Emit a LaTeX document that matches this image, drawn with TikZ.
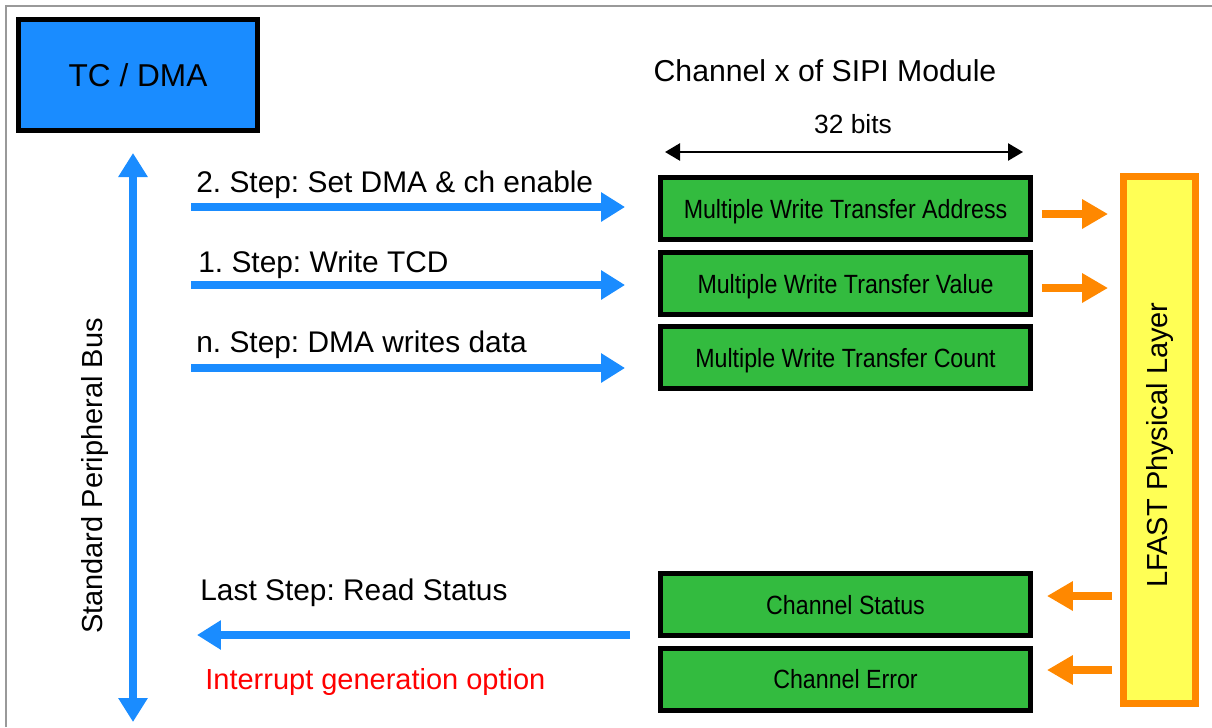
\documentclass[tikz,border=0pt]{standalone}
\usepackage{fontspec}
\setmainfont{Liberation Sans}
\newfontfamily\regfont[FakeStretch=0.88]{Liberation Sans}
\usetikzlibrary{arrows.meta,positioning,calc}
\usepackage{xcolor}
\definecolor{busblue}{RGB}{26,140,255}
\definecolor{reggreen}{RGB}{51,187,63}
\definecolor{phyorange}{RGB}{255,136,0}
\definecolor{phyyellow}{RGB}{255,255,85}
\frenchspacing

\begin{document}
\begin{tikzpicture}[x=0.02cm,y=-0.02cm,>=Latex,
  reg/.style={draw=black,line width=0.1cm,fill=reggreen,minimum width=7.4cm,minimum height=1.24cm,inner sep=0pt,text depth=0pt,font=\regfont\fontsize{15}{17}\selectfont},
  busarrow/.style={busblue,line width=0.15cm,-{Triangle[length=0.48cm,width=0.56cm]}},
  phyarrow/.style={phyorange,line width=0.16cm,-{Triangle[length=0.52cm,width=0.56cm]}},
  steplabel/.style={anchor=base west,inner sep=0pt,font=\fontsize{17}{20}\selectfont}]
\useasboundingbox (0,0) rectangle (1212,727);
\draw[gray!80,line width=0.04cm] (6,727) -- (6,6) -- (1212,6);
\node[draw=black,line width=0.1cm,fill=busblue,minimum width=4.78cm,minimum height=2.22cm,font=\fontsize{18}{21}\selectfont] (tcdma) at (138,75) {TC / DMA};
\node[anchor=base,inner sep=0pt,font=\fontsize{17.2}{20}\selectfont] (chtitle) at (825,81) {Channel x of SIPI Module};
\node[anchor=base,inner sep=0pt,font=\fontsize{15}{18}\selectfont] (bits) at (853,133) {32 bits};
\coordinate (bitl) at (665,152);
\coordinate (bitr) at (1023,152);
\draw[line width=0.05cm,{Triangle[length=0.3cm,width=0.34cm]}-{Triangle[length=0.3cm,width=0.34cm]}] (bitl) -- (bitr);
\node[reg] (addr) at (845.5,208.5) {Multiple Write Transfer Address};
\node[reg] (val) at (845.5,283.5) {Multiple Write Transfer Value};
\node[reg] (cnt) at (845.5,357.5) {Multiple Write Transfer Count};
\node[reg] (stat) at (845.5,604.5) {Channel Status};
\node[reg] (err) at (845.5,679) {Channel Error};
\node[draw=phyorange,line width=0.14cm,fill=phyyellow,minimum width=1.44cm,minimum height=10.54cm,inner sep=0pt] (phy) at (1159.5,440) {};
\node[rotate=90,font=\fontsize{16.5}{19}\selectfont] (phyname) at (1160,445) {LFAST Physical Layer};
\coordinate (bustop) at (133,153);
\coordinate (busbot) at (133,722);
\draw[busarrow,{Triangle[length=0.48cm,width=0.56cm]}-{Triangle[length=0.48cm,width=0.56cm]}] (busbot) -- (bustop);
\node[rotate=90,font=\fontsize{16.5}{20}\selectfont] (busname) at (95,476) {Standard Peripheral Bus};
\coordinate (w2) at (191,207);
\coordinate (w1) at (191,285);
\coordinate (wn) at (191,368);
\node[steplabel] (l2) at (196,192) {2. Step: Set DMA \& ch enable};
\node[steplabel] (l1) at (198,272) {1. Step: Write TCD};
\node[steplabel] (ln) at (196,352) {n. Step: DMA writes data};
\draw[busarrow,shorten >=0.66cm] (w2) -- (w2 -| addr.west);
\draw[busarrow,shorten >=0.66cm] (w1) -- (w1 -| val.west);
\draw[busarrow,shorten >=0.66cm] (wn) -- (wn -| cnt.west);
\draw[phyarrow,shorten <=0.18cm,shorten >=0.24cm] ([yshift=-0.11cm]addr.east) -- ([yshift=-0.11cm]addr.east -| phy.west);
\draw[phyarrow,shorten <=0.18cm,shorten >=0.24cm] ([yshift=-0.09cm]val.east) -- ([yshift=-0.09cm]val.east -| phy.west);
\draw[phyarrow,shorten <=0.16cm,shorten >=0.28cm] ([yshift=0.17cm]stat.east -| phy.west) -- ([yshift=0.17cm]stat.east);
\draw[phyarrow,shorten <=0.16cm,shorten >=0.28cm] ([yshift=0.18cm]err.east -| phy.west) -- ([yshift=0.18cm]err.east);
\node[steplabel] (lrd) at (200,600) {Last Step: Read Status};
\coordinate (rd) at (630,635);
\coordinate (rdend) at (197,635);
\draw[busarrow] (rd) -- (rdend);
\node[steplabel,red,font=\fontsize{16.5}{20}\selectfont] (irq) at (205,689) {Interrupt generation option};
\end{tikzpicture}
\end{document}
